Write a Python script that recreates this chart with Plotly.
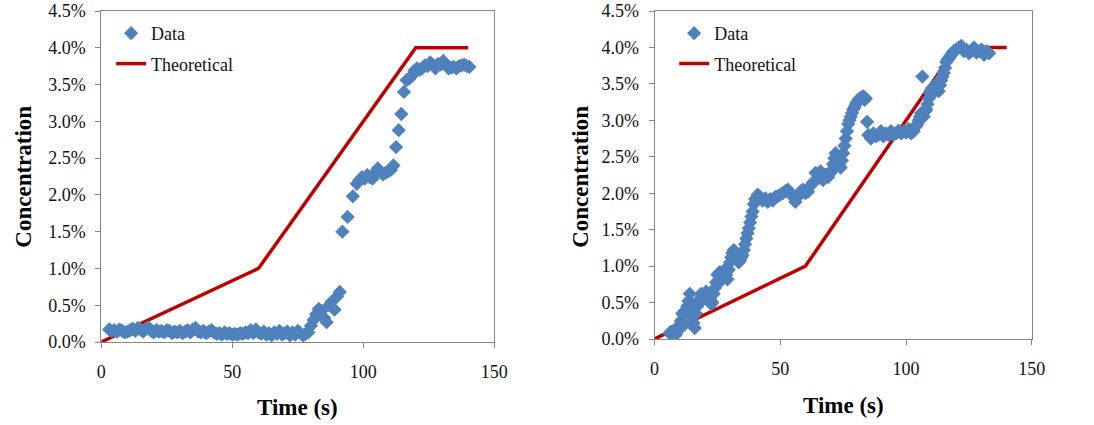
import plotly.graph_objects as go

# ---------------- data ----------------
theory_t = [0, 60, 120, 140]
theory_c = [0.0, 1.0, 4.0, 4.0]  # percent

left_t = [3, 4, 5, 6, 7, 8, 9, 10, 11, 12,
          13, 14, 15, 16, 17, 18, 19, 20, 21, 22,
          23, 24, 25, 26, 27, 28, 29, 30, 31, 32,
          33, 34, 35, 36, 37, 38, 39, 40, 41, 42,
          43, 44, 45, 46, 47, 48, 49, 50, 51, 52,
          53, 54, 55, 56, 57, 58, 59, 60, 61, 62,
          63, 64, 65, 66, 67, 68, 69, 70, 71, 72,
          73, 74, 75, 76, 77, 78, 79, 80, 81, 82,
          83, 84, 85, 86, 87, 88, 89, 90, 91, 92,
          94, 96, 97.5, 98.5, 99.5, 100.5, 101.5, 102.5, 103.5, 104.5,
          105.5, 106.5, 107.5, 108.5, 109.5, 110.5, 111.5, 112.5, 113.5, 114.5,
          115.5, 116.5, 117.5, 118.5, 119.5, 120.5, 121.5, 122.5, 123.5, 124.5,
          125.5, 126.5, 127.5, 128.5, 129.5, 130.5, 131.5, 132.5, 133.5, 134.5,
          135.5, 136.5, 137.5, 138.5, 139.5, 140.5]
left_c = [0.17, 0.15, 0.16, 0.14, 0.17, 0.15, 0.13, 0.14, 0.16, 0.18,
          0.15, 0.19, 0.17, 0.14, 0.18, 0.20, 0.15, 0.13, 0.16, 0.14,
          0.15, 0.13, 0.16, 0.15, 0.12, 0.14, 0.13, 0.15, 0.12, 0.14,
          0.16, 0.13, 0.17, 0.19, 0.14, 0.13, 0.15, 0.12, 0.14, 0.16,
          0.13, 0.11, 0.12, 0.10, 0.13, 0.11, 0.12, 0.10, 0.11, 0.10,
          0.12, 0.11, 0.13, 0.12, 0.16, 0.12, 0.17, 0.13, 0.11, 0.14,
          0.10, 0.12, 0.09, 0.13, 0.11, 0.15, 0.10, 0.12, 0.14, 0.09,
          0.13, 0.10, 0.15, 0.12, 0.09, 0.11, 0.13, 0.22, 0.30, 0.38,
          0.45, 0.42, 0.33, 0.27, 0.50, 0.55, 0.44, 0.62, 0.68, 1.50,
          1.70, 1.98, 2.15, 2.20, 2.24, 2.22, 2.27, 2.24, 2.22, 2.30,
          2.36, 2.31, 2.28, 2.30, 2.32, 2.34, 2.40, 2.65, 2.88, 3.10,
          3.40, 3.56, 3.58, 3.62, 3.69, 3.72, 3.70, 3.72, 3.76, 3.75,
          3.80, 3.77, 3.72, 3.78, 3.77, 3.82, 3.76, 3.72, 3.73, 3.74,
          3.72, 3.75, 3.76, 3.77, 3.75, 3.74]

right_t = [6, 6.5, 7, 7.5, 8, 8.5, 9, 9.5, 10, 10.5,
           11, 11.5, 12, 12.5, 13, 13.5, 14, 14.5, 15, 15.5,
           16, 16.5, 17, 17.5, 18, 18.5, 19, 19.5, 20, 20.5,
           21, 21.5, 22, 22.5, 23, 23.5, 24, 24.5, 25, 25.5,
           26, 26.5, 27, 27.5, 28, 28.5, 29, 29.5, 30, 30.5,
           31, 31.5, 32, 32.5, 33, 33.5, 34, 34.5, 35, 35.5,
           36, 36.5, 37, 37.5, 38, 38.5, 39, 39.5, 40,
           41, 42, 43, 44, 45, 46, 47, 48, 49, 50,
           51, 52, 53, 54, 55, 56, 57, 58, 59, 60,
           61, 62, 63, 64, 65, 66, 67, 68, 69,
           70, 70.5, 71, 71.5, 72, 72.5, 73, 73.5, 74, 74.5,
           75, 75.5, 76, 76.5, 77, 77.5, 78, 78.5, 79, 79.5,
           80, 80.5, 81, 81.5, 82, 82.5, 83, 83.5, 84, 84.5,
           85, 86, 87, 88, 89, 90, 91, 92, 93, 94,
           95, 96, 97, 98, 99, 100, 101, 102, 103,
           104, 104.5, 105, 105.5, 106, 106.5, 107, 107.5, 108, 108.5,
           109, 109.5, 110, 110.5, 111, 111.5, 112, 112.5, 113, 113.5,
           114, 114.5, 115, 115.5, 116, 116.5, 117, 117.5, 118, 118.5,
           119, 119.5, 120,
           121, 122, 123, 124, 125, 126, 127, 128, 129, 130,
           131, 132, 133]
right_c = [0.08, 0.10, 0.05, 0.09, 0.12, 0.06, 0.10, 0.18, 0.15, 0.25,
           0.35, 0.22, 0.20, 0.40, 0.45, 0.52, 0.62, 0.40, 0.30, 0.22,
           0.15, 0.35, 0.45, 0.50, 0.55, 0.62, 0.60, 0.55, 0.58, 0.65,
           0.62, 0.58, 0.55, 0.48, 0.50, 0.62, 0.70, 0.78, 0.88, 0.90,
           0.92, 0.80, 0.85, 0.92, 0.95, 0.88, 0.82, 0.95, 1.05, 1.12,
           1.18, 1.22, 1.20, 1.12, 1.10, 1.05, 1.08, 1.12, 1.15, 1.22,
           1.30, 1.38, 1.45, 1.52, 1.60, 1.68, 1.75, 1.85, 1.92,
           1.98, 1.95, 1.90, 1.93, 1.88, 1.92, 1.90, 1.95, 1.96, 1.98,
           2.00, 2.03, 2.05, 2.00, 1.95, 1.88, 1.95, 2.02, 2.05, 2.00,
           2.02, 2.10, 2.15, 2.28, 2.20, 2.30, 2.18, 2.25, 2.22,
           2.28, 2.32, 2.40, 2.48, 2.55, 2.50, 2.45, 2.38, 2.35, 2.45,
           2.55, 2.65, 2.75, 2.85, 2.95, 3.00, 3.05, 3.10, 3.15, 3.18,
           3.22, 3.25, 3.28, 3.30, 3.30, 3.32, 3.33, 3.28, 3.30, 2.98,
           2.80, 2.75, 2.82, 2.78, 2.80, 2.85, 2.78, 2.82, 2.80, 2.85,
           2.80, 2.82, 2.86, 2.82, 2.85, 2.83, 2.88, 2.82, 2.85,
           2.92, 2.95, 3.00, 3.05, 3.10, 3.60, 3.05, 3.12, 3.15, 3.22,
           3.30, 3.38, 3.42, 3.45, 3.38, 3.42, 3.48, 3.52, 3.40, 3.48,
           3.55, 3.60, 3.65, 3.72, 3.80, 3.83, 3.85, 3.88, 3.90, 3.93,
           3.95, 3.96, 3.97,
           4.00, 4.02, 3.95, 3.97, 3.92, 3.95, 4.00, 3.93, 3.95, 3.97,
           3.90, 3.95, 3.92]

assert len(left_t) == len(left_c)
assert len(right_t) == len(right_c)

x_ticks = [0, 50, 100, 150]

# ---------------- style ----------------
BLUE = "#4F81BD"
RED = "#C00000"
AXIS = "#868686"
FONT = "Liberation Serif"

fig = go.Figure()

for i, (tt, cc) in enumerate([(left_t, left_c), (right_t, right_c)]):
    xa = "x" if i == 0 else "x2"
    ya = "y" if i == 0 else "y2"
    lg = "legend" if i == 0 else "legend2"
    fig.add_trace(go.Scatter(
        x=theory_t, y=[v / 100 for v in theory_c], mode="lines",
        name="Theoretical", line=dict(color=RED, width=3.5),
        xaxis=xa, yaxis=ya, legend=lg, legendrank=2,
        legendgroup=f"th{i}", hoverinfo="skip"))
    fig.add_trace(go.Scatter(
        x=tt, y=[v / 100 for v in cc], mode="markers",
        name="Data", marker=dict(symbol="diamond", size=11, color=BLUE),
        xaxis=xa, yaxis=ya, legend=lg, legendrank=1,
        legendgroup=f"d{i}"))

W, H = 1094, 425
mt, mb = 11, 83
ph = H - mt - mb

axis_common = dict(
    showgrid=False, zeroline=False, showline=True, linecolor=AXIS, linewidth=1,
    mirror=True, ticks="outside", ticklen=5, tickcolor=AXIS,
    tickfont=dict(family=FONT, size=18, color="#111"),
)

fig.update_layout(
    width=W, height=H,
    margin=dict(l=0, r=0, t=mt, b=mb),
    paper_bgcolor="white", plot_bgcolor="white",
    font=dict(family=FONT, size=18, color="#111"),
    xaxis=dict(domain=[98 / W, 498 / W], range=[0, 150], tickvals=x_ticks,
               anchor="y", ticklabelstandoff=8, **axis_common),
    yaxis=dict(domain=[0, 1], range=[0, 0.045], dtick=0.005, tickformat=".1%",
               anchor="x", ticklabelstandoff=6, **axis_common),
    xaxis2=dict(domain=[661 / W, 1045 / W], range=[0, 150], tickvals=x_ticks,
                anchor="y2", ticklabelstandoff=8, **axis_common),
    yaxis2=dict(domain=[(H - 339 - mb) / ph, 1], range=[0, 0.045], dtick=0.005,
                tickformat=".1%", anchor="x2", ticklabelstandoff=6, **axis_common),
    legend=dict(x=108 / W, y=(H - 15 - mb) / ph, xanchor="left", yanchor="top",
                bgcolor="rgba(0,0,0,0)", font=dict(family=FONT, size=18),
                tracegroupgap=4),
    legend2=dict(x=681 / W, y=(H - 15 - mb) / ph, xanchor="left", yanchor="top",
                 bgcolor="rgba(0,0,0,0)", font=dict(family=FONT, size=18),
                 tracegroupgap=4),
    showlegend=True,
)

title_font = dict(family=FONT, size=23, color="#000")
fig.add_annotation(text="<b>Time (s)</b>", xref="paper", yref="paper",
                   x=298 / W, y=(H - 408 - mb) / ph, xanchor="center", yanchor="middle",
                   showarrow=False, font=title_font)
fig.add_annotation(text="<b>Time (s)</b>", xref="paper", yref="paper",
                   x=853 / W, y=(H - 405 - mb) / ph, xanchor="center", yanchor="middle",
                   showarrow=False, font=title_font)
fig.add_annotation(text="<b>Concentration</b>", xref="paper", yref="paper",
                   x=18 / W, y=(H - 177 - mb) / ph, xanchor="center", yanchor="middle",
                   textangle=-90, showarrow=False, font=title_font)
fig.add_annotation(text="<b>Concentration</b>", xref="paper", yref="paper",
                   x=585 / W, y=(H - 177 - mb) / ph, xanchor="center", yanchor="middle",
                   textangle=-90, showarrow=False, font=title_font)

fig.write_html("out.html")
